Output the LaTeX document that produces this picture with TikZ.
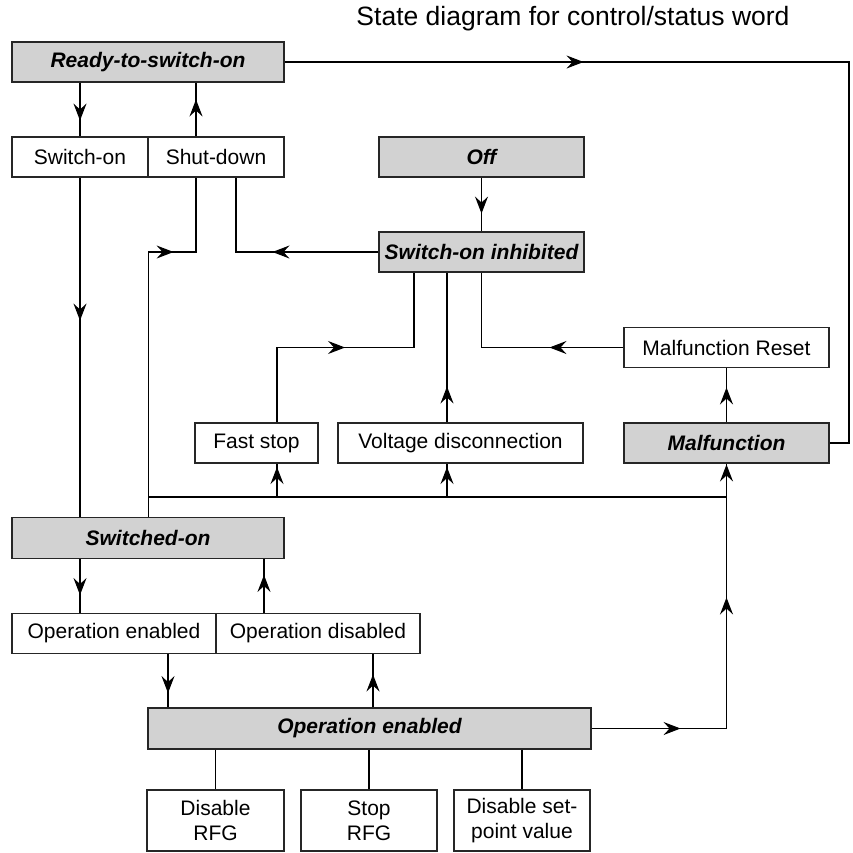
\documentclass[tikz,border=0pt]{standalone}
\usepackage{fontspec}
\setmainfont{Liberation Sans}
\usetikzlibrary{arrows.meta,decorations.markings}
\tikzset{
  box/.style={draw=black!85, line width=1.1pt, minimum height=40pt, inner sep=0pt,
    font=\fontsize{21}{25}\selectfont, align=center},
  state/.style={box, fill=gray!35, font=\fontsize{21}{25}\selectfont\bfseries\itshape},
  conn/.style={line width=1.1pt, black},
  arr/.style={postaction={decorate,decoration={markings,
    mark=at position #1 with {\arrow{Stealth[length=17pt,width=13pt,inset=6pt]}}}}},
}
\begin{document}
\begin{tikzpicture}[x=1pt,y=-1pt]
\useasboundingbox (0,0) rectangle (853,852);
% title
\node[font=\fontsize{26.5}{30}\selectfont] (title) at (573,19) {State diagram for control/status word};
% nodes
\node[state, minimum width=272pt] (rtso) at (148,62) {Ready-to-switch-on};
\node[box, minimum width=136pt] (son) at (80,157) {Switch-on};
\node[box, minimum width=136pt] (sdn) at (216,157) {Shut-down};
\node[state, minimum width=205pt] (off) at (481.5,157) {Off};
\node[state, minimum width=205pt] (soi) at (481.5,252) {Switch-on inhibited};
\node[box, minimum width=205pt] (mreset) at (726.5,347.5) {Malfunction Reset};
\node[box, minimum width=123pt] (fstop) at (256.5,443) {Fast stop};
\node[box, minimum width=245pt] (volt) at (460.5,443) {Voltage disconnection};
\node[state, minimum width=205pt] (malf) at (726.5,443) {Malfunction};
\node[state, minimum width=272pt, minimum height=41pt] (swon) at (148,538) {Switched-on};
\node[box, minimum width=204pt] (opena) at (114,633.5) {Operation enabled};
\node[box, minimum width=204pt] (opdis) at (318,633.5) {Operation disabled};
\node[state, minimum width=443pt, minimum height=41pt] (openbig) at (369.5,728.5) {Operation enabled};
\node[box, minimum width=137pt, minimum height=61pt] (drfg) at (215.5,820.5) {Disable\\RFG};
\node[box, minimum width=136pt, minimum height=61pt] (srfg) at (369,820.5) {Stop\\RFG};
\node[box, minimum width=136pt, minimum height=61pt] (dsp) at (522,820.5) {Disable set-\\point value};
% column coordinates
\coordinate (xC) at (196,0);
\coordinate (xD) at (236,0);
\coordinate (xE) at (264,0);
\coordinate (xF) at (168,0);
\coordinate (xG) at (373,0);
\coordinate (xH) at (277,0);
\coordinate (xI) at (414,0);
\coordinate (xJ) at (447,0);
\coordinate (xR) at (849,0);
\coordinate (bus) at (148,497);
% connectors
\draw[conn,arr=38pt] (son |- rtso.south) -- (son.north);
\draw[conn,arr=37pt] (xC |- sdn.north) -- (xC |- rtso.south);
\draw[conn,arr=143pt] (son.south) -- (son |- swon.north);
\draw[conn,arr=290pt] (son.east |- swon.north) -- (son.east |- soi.west) -- (xC |- soi.west) -- (xC |- sdn.south);
\draw[conn,arr=106pt] (soi.west) -- (xD |- soi.west) -- (xD |- sdn.south);
\draw[conn,arr=36pt] (off.south) -- (soi.north);
\draw[conn,arr=143pt] (xH |- fstop.north) -- (xH |- mreset.west) -- (xI |- mreset.west) -- (xI |- soi.south);
\draw[conn,arr=36pt] (xJ |- volt.north) -- (xJ |- soi.south);
\draw[conn,arr=74pt] (mreset.west) -- (soi.south |- mreset.west) -- (soi.south);
\draw[conn,arr=35pt] (malf.north) -- (mreset.south);
\draw[conn,arr=299pt] (rtso.east) -- (xR |- rtso.east) -- (xR |- malf.east) -- (malf.east);
\draw[conn] (bus) -- (malf.south |- bus);
\draw[conn,arr=30pt] (xH |- bus) -- (xH |- fstop.south);
\draw[conn,arr=30pt] (xJ |- bus) -- (xJ |- volt.south);
\draw[conn,arr=89pt,arr=266pt,arr=399pt] (openbig.east) -- (malf.south |- openbig.east) -- (malf.south);
\draw[conn,arr=36pt] (son |- swon.south) -- (son |- opena.north);
\draw[conn,arr=38pt] (xE |- opdis.north) -- (xE |- swon.south);
\draw[conn,arr=39pt] (xF |- opena.south) -- (xF |- openbig.north);
\draw[conn,arr=33pt] (xG |- openbig.north) -- (xG |- opdis.south);
\draw[conn] (drfg |- openbig.south) -- (drfg.north);
\draw[conn] (srfg |- openbig.south) -- (srfg.north);
\draw[conn] (dsp |- openbig.south) -- (dsp.north);
\end{tikzpicture}
\end{document}
